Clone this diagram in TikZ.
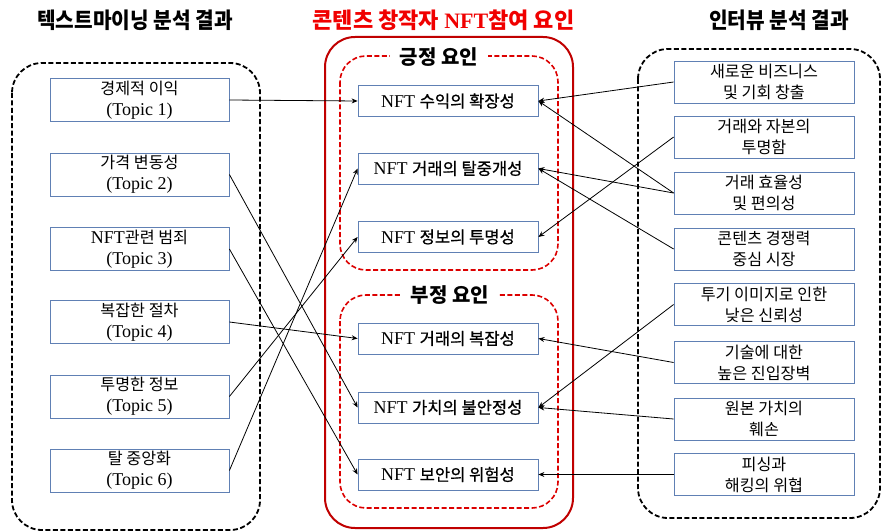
\documentclass[tikz,border=0pt]{standalone}
\usepackage{fontspec}
\setmainfont{Liberation Serif}
\newfontfamily\krf{Noto Sans CJK KR}[Scale=0.9]
\newfontfamily\krm{Noto Sans CJK KR}[Scale=0.92,FakeBold=0.8]
\newfontfamily\krt{Noto Sans CJK KR}[FakeStretch=0.92]
\newfontfamily\krh{Noto Sans CJK KR}
\usetikzlibrary{arrows.meta}
\definecolor{nodeblue}{RGB}{96,128,180}
\definecolor{darkred}{RGB}{192,0,0}
\definecolor{dashred}{RGB}{220,0,0}
\definecolor{titlered}{RGB}{240,0,0}
\begin{document}
\begin{tikzpicture}[x=1pt,y=-1pt,
  topicbox/.style={draw=nodeblue,line width=0.8pt,fill=white,minimum width=179pt,minimum height=43pt,inner sep=0pt,align=center,font=\fontsize{18}{21}\selectfont},
  intbox/.style={draw=nodeblue,line width=0.8pt,fill=white,minimum width=180pt,minimum height=42pt,inner sep=0pt,align=center,font=\fontsize{18}{21}\selectfont},
  factorbox/.style={draw=nodeblue,line width=0.8pt,fill=white,minimum width=180pt,minimum height=31pt,inner sep=0pt,align=center,font=\fontsize{18}{21}\selectfont},
  blackdash/.style={draw=black,line width=1.8pt,dash pattern=on 5pt off 2.5pt,rounded corners=30pt},
  reddash/.style={draw=dashred,line width=1.6pt,dash pattern=on 5pt off 2.5pt,rounded corners=26pt},
  conn/.style={line width=0.8pt,-{Stealth[length=6pt,width=5pt]}},
  headtitle/.style={font=\fontsize{22}{24}\selectfont},
  grouptitle/.style={fill=white,inner xsep=10pt,inner ysep=4pt,font=\fontsize{20}{22}\selectfont}
]
\useasboundingbox (0,0) rectangle (885,532);

% titles
\node[headtitle] (tl) at (135,20) {\krt\bfseries 텍스트마이닝 분석 결과};
\node[headtitle,text=titlered] (tm) at (443.5,20) {{\krh\bfseries 콘텐츠 창작자 }{\bfseries NFT}{\krh\bfseries 참여 요인}};
\node[headtitle] (tr) at (779,20) {\krt\bfseries 인터뷰 분석 결과};

% group frames
\draw[blackdash] (12,63) rectangle (260,530);
\draw[blackdash] (638,49) rectangle (880,518);
\draw[draw=darkred,line width=2pt,rounded corners=30pt] (325,37) rectangle (573,528);
\draw[reddash] (340,56) rectangle (558,270);
\draw[reddash] (340,295) rectangle (558,508);
\node[grouptitle] (gpos) at (439,57) {\krh\bfseries 긍정 요인};
\node[grouptitle] (gneg) at (450,295) {\krh\bfseries 부정 요인};

% left topics
\node[topicbox] (t1) at (139.5,100) {{\krf 경제적 이익}\\(Topic 1)};
\node[topicbox] (t2) at (139.5,174.5) {{\krf 가격 변동성}\\(Topic 2)};
\node[topicbox] (t3) at (139.5,249) {NFT{\krf 관련 범죄}\\(Topic 3)};
\node[topicbox] (t4) at (139.5,322) {{\krf 복잡한 절차}\\(Topic 4)};
\node[topicbox] (t5) at (139.5,396.5) {{\krf 투명한 정보}\\(Topic 5)};
\node[topicbox] (t6) at (139.5,470.5) {{\krf 탈 중앙화}\\(Topic 6)};

% middle factors
\node[factorbox] (p1) at (448,101) {NFT {\krm 수익의 확장성}};
\node[factorbox] (p2) at (448,168.5) {NFT {\krm 거래의 탈중개성}};
\node[factorbox] (p3) at (448,237) {NFT {\krm 정보의 투명성}};
\node[factorbox] (n1) at (448,338.5) {NFT {\krm 거래의 복잡성}};
\node[factorbox] (n2) at (448,407.5) {NFT {\krm 가치의 불안정성}};
\node[factorbox] (n3) at (448,474.5) {NFT {\krm 보안의 위험성}};

% right interview results
\node[intbox] (r1) at (764,82) {\krf 새로운 비즈니스\\\krf 및 기회 창출};
\node[intbox] (r2) at (764,137) {\krf 거래와 자본의\\\krf 투명함};
\node[intbox] (r3) at (764,193) {\krf 거래 효율성\\\krf 및 편의성};
\node[intbox] (r4) at (764,249) {\krf 콘텐츠 경쟁력\\\krf 중심 시장};
\node[intbox] (r5) at (764,304.5) {\krf 투기 이미지로 인한\\\krf 낮은 신뢰성};
\node[intbox] (r6) at (764,362.5) {\krf 기술에 대한\\\krf 높은 진입장벽};
\node[intbox] (r7) at (764,419) {\krf 원본 가치의\\\krf 훼손};
\node[intbox] (r8) at (764,474.5) {\krf 피싱과\\\krf 해킹의 위협};

% connectors from left
\draw[conn] (t1.east) -- (p1.west);
\draw[conn] (t2.east) -- (n2.west);
\draw[conn] (t3.east) -- (n3.west);
\draw[conn] (t4.east) -- (n1.west);
\draw[conn] (t5.east) -- (p3.west);
\draw[conn] (t6.east) -- (p2.west);

% connectors from right
\draw[conn] (r1.west) -- (p1.east);
\draw[conn] (r3.west) -- (p1.east);
\draw[conn] (r2.west) -- (p3.east);
\draw[conn] (r3.west) -- (p2.east);
\draw[conn] (r4.west) -- (p2.east);
\draw[conn] (r5.west) -- (n2.east);
\draw[conn] (r6.west) -- (n1.east);
\draw[conn] (r7.west) -- (n2.east);
\draw[conn] (r8.west) -- (n3.east);
\end{tikzpicture}
\end{document}
